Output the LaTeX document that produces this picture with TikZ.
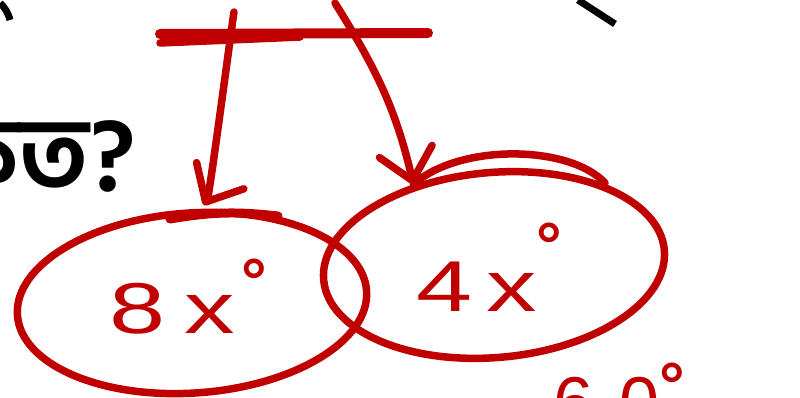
\documentclass[tikz,border=0pt]{standalone}
\usepackage{fontspec}
\newfontfamily\bnfont[Script=Bengali]{Hind Siliguri}
\newfontfamily\handfont{Liberation Sans}
\usetikzlibrary{arrows.meta,shapes.geometric}
\definecolor{ink}{HTML}{C00000}
\newcommand\hdeg[2]{\hspace{#1}\raisebox{#2}{\bfseries\fontsize{64}{64}\selectfont °}}
\newcommand\wide[1]{\scalebox{1.4}[1]{#1}}

\begin{document}
\begin{tikzpicture}[
  x=1pt,y=1pt,
  pen/.style={draw=ink,line width=7.5pt,line cap=round,line join=round},
  ring/.style={pen,ellipse,inner sep=0pt},
  hand/.style={text=ink,inner sep=0pt,font=\handfont\fontsize{72}{72}\selectfont},
  point/.style={-{Straight Barb[length=30pt,width=54pt,round]}}
]
  \useasboundingbox (0,0) rectangle (800,397);
  \clip (0,0) rectangle (800,397);

  % question, cut off at the left edge
  \node[anchor=base east,inner sep=0pt,font=\bnfont\bfseries\fontsize{104}{104}\selectfont] (q) at (136,206) {কত?};

  % scraps of the line above
  \draw[line width=7pt] (0,394) to[bend left=15] (10,377);
  \draw[line width=7pt] (578,397) -- (615,373);

  % the two angles
  \node[ring,minimum width=350pt,minimum height=180pt,rotate=4] (e8) at (192,94) {};
  \node[ring,minimum width=342pt,minimum height=185pt,rotate=5] (e4) at (494,132) {};
  \node[hand,anchor=base west] (t8) at (109,64) {\wide{8\hspace{14pt}x}\hdeg{6pt}{30pt}};
  \node[hand,anchor=base west] (t4) at (416,86) {\wide{4\hspace{10pt}x}\hdeg{0pt}{44pt}};
  \node[hand,anchor=base west] (t60) at (553,-30) {6\hspace{26pt}0\hdeg{0pt}{20pt}};

  % marks on the arcs
  \draw[pen,line width=9pt] (170,178) to[bend left=8] (278,181);
  \draw[pen] (e4.130) .. controls (460,254) and (570,252) .. (605,214);

  % the line and the arrows
  \coordinate (b1) at (160,363);
  \coordinate (b2) at (428,364);
  \coordinate (b3) at (160,354);
  \coordinate (b4) at (300,360);
  \coordinate (s1) at (234,385);
  \coordinate (s2) at (335,394);
  \draw[pen,line width=10pt] (b1) -- (b2);
  \draw[pen] (b3) -- (b4);
  \draw[pen,point,shorten >=4pt] (s1) to[out=-99,in=61,looseness=0.2] (e8.80);
  \draw[pen,point] (s2) to[out=-58,in=103] (e4.130);
\end{tikzpicture}
\end{document}
